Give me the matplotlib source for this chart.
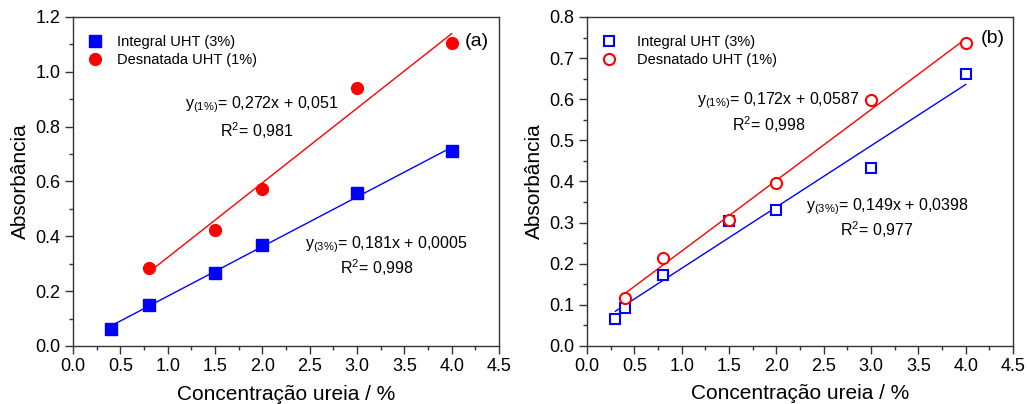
import numpy as np
import matplotlib.pyplot as plt
from matplotlib.ticker import MultipleLocator

plt.rcParams['font.family'] = ['Liberation Sans', 'DejaVu Sans']
plt.rcParams['mathtext.fontset'] = 'custom'
plt.rcParams['mathtext.rm'] = 'Liberation Sans'
plt.rcParams['mathtext.it'] = 'Liberation Sans'

# panel (a)
a_x_int = [0.4, 0.8, 1.5, 2.0, 3.0, 4.0]
a_y_int = [0.062, 0.148, 0.268, 0.368, 0.558, 0.710]
a_x_des = [0.8, 1.5, 2.0, 3.0, 4.0]
a_y_des = [0.285, 0.423, 0.572, 0.942, 1.105]
a_fit_int = (0.181, 0.0005)
a_fit_des = (0.272, 0.051)

# panel (b)
b_x_int = [0.3, 0.4, 0.8, 1.5, 2.0, 3.0, 4.0]
b_y_int = [0.066, 0.093, 0.173, 0.303, 0.331, 0.433, 0.661]
b_x_des = [0.4, 0.8, 1.5, 2.0, 3.0, 4.0]
b_y_des = [0.117, 0.213, 0.306, 0.396, 0.597, 0.736]
b_fit_int = (0.149, 0.0398)
b_fit_des = (0.172, 0.0587)

BLUE = '#0000ff'
RED = '#ff0000'

fig = plt.figure(figsize=(10.28, 4.04), dpi=100)
ax1 = fig.add_axes([0.0710, 0.1436, 0.4144, 0.8144])
ax2 = fig.add_axes([0.5710, 0.1436, 0.4144, 0.8144])


def fit_line(ax, xs, coef, color):
    xx = np.array([min(xs), max(xs)])
    ax.plot(xx, coef[0] * xx + coef[1], color=color, lw=1.0, zorder=2)


def style_axes(ax, ymax, ymaj, ymin, xpad):
    ax.set_xlim(0, 4.5)
    ax.set_ylim(0, ymax)
    ax.xaxis.set_major_locator(MultipleLocator(0.5))
    ax.xaxis.set_minor_locator(MultipleLocator(0.25))
    ax.yaxis.set_major_locator(MultipleLocator(ymaj))
    ax.yaxis.set_minor_locator(MultipleLocator(ymin))
    ax.tick_params(which='major', direction='out', length=6, width=1,
                   labelsize=13, pad=3, top=False, right=False,
                   color='#333333')
    ax.tick_params(which='minor', direction='out', length=3, width=1,
                   top=False, right=False, color='#333333')
    for s in ax.spines.values():
        s.set_linewidth(1.0)
        s.set_color('#333333')
    ax.set_xlabel('Concentração ureia / %', fontsize=15, labelpad=xpad)
    ax.set_ylabel('Absorbância', fontsize=15, labelpad=4)


# (a)
fit_line(ax1, a_x_int, a_fit_int, BLUE)
fit_line(ax1, a_x_des, a_fit_des, RED)
ax1.plot(a_x_int, a_y_int, 's', color=BLUE, ms=8, label='Integral UHT (3%)', zorder=3)
ax1.plot(a_x_des, a_y_des, 'o', color=RED, ms=8.5, label='Desnatada UHT (1%)', zorder=3)
style_axes(ax1, 1.2, 0.2, 0.1, 7)
ax1.yaxis.set_major_formatter(plt.FormatStrFormatter('%.1f'))
ax1.text(1.18, 0.879, r'y$_{(1\%)}$= 0,272x + 0,051', fontsize=11.5, va='center')
ax1.text(1.94, 0.784, r'R$^2$= 0,981', fontsize=11.5, va='center', ha='center')
ax1.text(2.45, 0.368, r'y$_{(3\%)}$= 0,181x + 0,0005', fontsize=11.5, va='center')
ax1.text(3.21, 0.284, r'R$^2$= 0,998', fontsize=11.5, va='center', ha='center')
ax1.text(4.27, 1.11, '(a)', fontsize=14, va='center', ha='center')
ax1.legend(loc='upper left', bbox_to_anchor=(0.0, 0.985), frameon=False,
           fontsize=10.5, handlelength=1.2, handletextpad=0.9, labelspacing=0.3)

# (b)
fit_line(ax2, b_x_int, b_fit_int, BLUE)
fit_line(ax2, b_x_des, b_fit_des, RED)
ax2.plot(b_x_int, b_y_int, 's', mfc='white', mec=BLUE, mew=1.5, ms=7,
         label='Integral UHT (3%)', zorder=3)
ax2.plot(b_x_des, b_y_des, 'o', mfc='white', mec=RED, mew=1.5, ms=8,
         label='Desnatado UHT (1%)', zorder=3)
style_axes(ax2, 0.8, 0.1, 0.05, 6)
ax2.yaxis.set_major_formatter(plt.FormatStrFormatter('%.1f'))
ax2.text(1.16, 0.596, r'y$_{(1\%)}$= 0,172x + 0,0587', fontsize=11.5, va='center')
ax2.text(1.92, 0.537, r'R$^2$= 0,998', fontsize=11.5, va='center', ha='center')
ax2.text(2.31, 0.338, r'y$_{(3\%)}$= 0,149x + 0,0398', fontsize=11.5, va='center')
ax2.text(3.06, 0.282, r'R$^2$= 0,977', fontsize=11.5, va='center', ha='center')
ax2.text(4.29, 0.748, '(b)', fontsize=14, va='center', ha='center')
ax2.legend(loc='upper left', bbox_to_anchor=(0.0, 0.985), frameon=False,
           fontsize=10.5, handlelength=1.2, handletextpad=1.3, labelspacing=0.3)

fig.savefig('out.png', dpi=100)
